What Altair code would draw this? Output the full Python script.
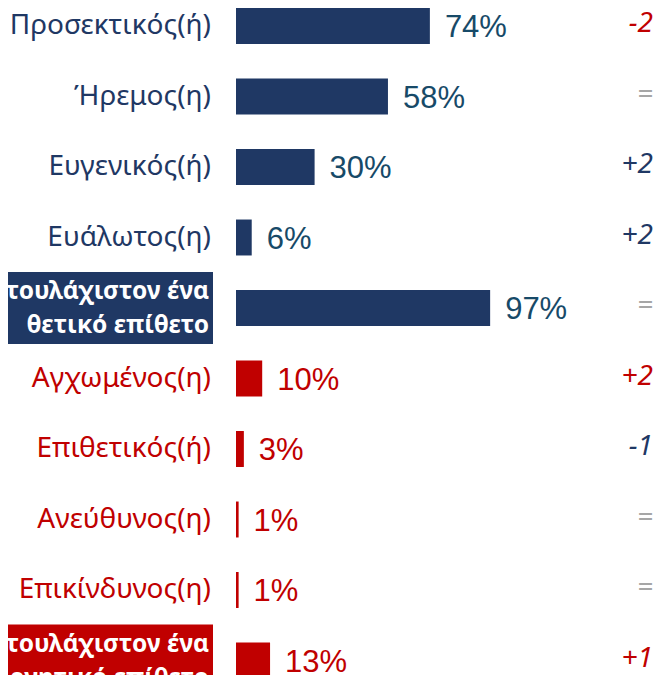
import altair as alt
import pandas as pd

labels = ["Προσεκτικός(ή)", "Ήρεμος(η)", "Ευγενικός(ή)", "Ευάλωτος(η)",
          "τουλάχιστον ένα\nθετικό επίθετο",
          "Αγχωμένος(η)", "Επιθετικός(ή)", "Ανεύθυνος(η)", "Επικίνδυνος(η)",
          "τουλάχιστον ένα\nαρνητικό επίθετο"]
values = [74, 58, 30, 6, 97, 10, 3, 1, 1, 13]
changes = ["-2", "=", "+2", "+2", "=", "+2", "-1", "=", "=", "+1"]
groups = ["pos", "pos", "pos", "pos", "pos", "neg", "neg", "neg", "neg", "neg"]
summary = [False, False, False, False, True, False, False, False, False, True]
change_tone = ["bad", "same", "good", "good", "same", "bad", "good", "same", "same", "bad"]

df = pd.DataFrame({
    "row": list(range(len(labels))),
    "label": labels,
    "value": values,
    "pct": [f"{v}%" for v in values],
    "change": changes,
    "group": groups,
    "summary": summary,
    "tone": change_tone,
})

NAVY = "#1F3864"
RED = "#C00000"

y = alt.Y("row:O", axis=None,
          scale=alt.Scale(domain=list(range(len(labels))),
                          range=[-17.25, 687.75], round=False,
                          paddingInner=0.49, paddingOuter=0.245))
x_scale = alt.Scale(domain=[0, 100], range=[228, 490])
grp_color = alt.Color("group:N", legend=None,
                      scale=alt.Scale(domain=["pos", "neg"], range=[NAVY, RED]))

base = alt.Chart(df)

bars = base.mark_bar(clip=True).encode(
    x=alt.X("value:Q", scale=x_scale, axis=None),
    y=y,
    color=grp_color,
)

values_txt = base.mark_text(align="left", baseline="middle", dx=15, dy=2,
                            font="Liberation Sans", fontSize=31, clip=True).encode(
    x=alt.X("value:Q", scale=x_scale),
    y=y,
    text="pct:N",
    color=alt.Color("group:N", legend=None,
                    scale=alt.Scale(domain=["pos", "neg"], range=["#174A68", RED])),
)

boxes = base.transform_filter("datum.summary").mark_bar(height=72, clip=True).encode(
    x=alt.value(0), x2=alt.value(205),
    y=y,
    color=grp_color,
)

plain_labels = base.transform_filter("!datum.summary").mark_text(
    align="right", baseline="middle", font="Noto Sans", fontSize=28, clip=True).encode(
    x=alt.value(203), y=y, text="label:N", color=grp_color,
)

sum_labels = base.transform_filter("datum.summary").mark_text(
    align="right", baseline="middle", font="Noto Sans", fontSize=24.5, fontWeight="bold",
    lineBreak="\n", lineHeight=34, dy=-16, color="white", clip=True).encode(
    x=alt.value(201), y=y, text="label:N",
)

chg = base.mark_text(align="right", baseline="middle", font="Noto Sans",
                     fontSize=28, fontStyle="italic", dy=-2, clip=True).encode(
    x=alt.value(645), y=y, text="change:N",
    color=alt.Color("tone:N", legend=None,
                    scale=alt.Scale(domain=["bad", "good", "same"],
                                    range=[RED, NAVY, "#A6A6A6"])),
)

chart = alt.layer(bars, values_txt, boxes, plain_labels, sum_labels, chg).properties(
    width=646, height=667,
    autosize=alt.AutoSizeParams(type="none"),
    padding=0,
).resolve_scale(color="independent").configure_view(stroke=None)

chart.save("out.html", embed_options={"renderer": "svg", "actions": False})
